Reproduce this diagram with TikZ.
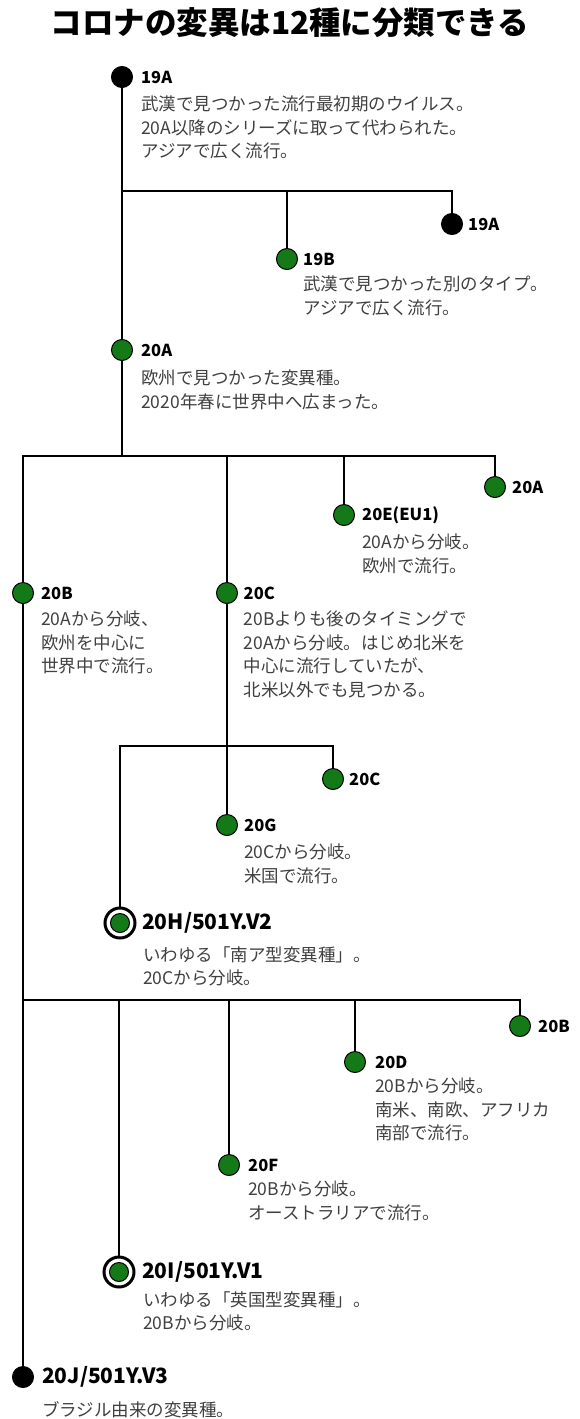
\documentclass[tikz,border=0pt]{standalone}
\usepackage{fontspec}
\setmainfont{Noto Sans CJK JP}
\definecolor{cgreen}{RGB}{20,122,24}
\definecolor{desccol}{RGB}{64,64,64}
\begin{document}
\begin{tikzpicture}[x=1pt,y=-1pt,
  conn/.style={line width=1.8pt, draw=black},
  gdot/.style={circle, fill=cgreen, draw=black, line width=1pt, minimum size=21pt, inner sep=0pt},
  bdot/.style={gdot, fill=black},
  ring/.style={circle, draw=black, fill=white, line width=3pt, minimum size=30pt, inner sep=0pt},
  gin/.style={gdot, minimum size=19pt},
  lab/.style={anchor=west, inner sep=0pt, font=\bfseries\fontsize{16.5}{16.5}\selectfont},
  biglab/.style={anchor=west, inner sep=0pt, font=\bfseries\fontsize{21}{21}\selectfont},
  txt/.style={anchor=north west, inner sep=0pt, align=left, text=desccol, font=\fontsize{17.5}{23.5}\selectfont},
]
\useasboundingbox (0,0) rectangle (580,1419);

\node[font=\bfseries\fontsize{31.5}{31.5}\selectfont, inner sep=0pt] (title) at (290,23) {コロナの変異は12種に分類できる};

% dots
\node[bdot] (d19A) at (122,77) {};
\node[gdot] (d19B) at (287,259) {};
\node[bdot] (d19Ar) at (452,224) {};
\node[gdot] (d20A) at (122,350) {};
\node[gdot] (d20Ar) at (495,487) {};
\node[gdot] (d20E) at (344,515) {};
\node[gdot] (d20B) at (23,593) {};
\node[gdot] (d20C) at (227,593) {};
\node[gdot] (d20Cr) at (333,779) {};
\node[gdot] (d20G) at (227,825) {};
\node[ring] (d20H) at (120,923) {};
\node[gin] (d20Hin) at (120,923) {};
\node[gdot] (d20Br) at (520,1026) {};
\node[gdot] (d20D) at (355,1062) {};
\node[gdot] (d20F) at (229,1165) {};
\node[ring] (d20I) at (119,1272) {};
\node[gin] (d20Iin) at (119,1272) {};
\node[bdot] (d20J) at (23,1377) {};

% junctions
\coordinate (h1) at (122,191);
\coordinate (h2) at (122,456);
\coordinate (h3) at (227,746);
\coordinate (h4) at (23,1000);

% connectors
\draw[conn] (d19A) -- (d20A);
\draw[conn] (h1) -| (d19B);
\draw[conn] (h1) -| (d19Ar);
\draw[conn] (d20A) -- (h2);
\draw[conn] (h2) -| (d20B);
\draw[conn] (h2) -| (d20C);
\draw[conn] (h2) -| (d20E);
\draw[conn] (h2) -| (d20Ar);
\draw[conn] (d20C) -- (d20G);
\draw[conn] (h3) -| (d20H);
\draw[conn] (h3) -| (d20Cr);
\draw[conn] (d20B) -- (d20J);
\draw[conn] (h4) -| (d20I);
\draw[conn] (h4) -| (d20F);
\draw[conn] (h4) -| (d20D);
\draw[conn] (h4) -| (d20Br);

% labels
\node[lab] (l19A) at (141,77) {19A};
\node[lab] (l19B) at (303,259) {19B};
\node[lab] (l19Ar) at (468,224) {19A};
\node[lab] (l20A) at (141,350) {20A};
\node[lab] (l20Ar) at (512,487) {20A};
\node[lab] (l20E) at (362,515) {20E(EU1)};
\node[lab] (l20B) at (41,593) {20B};
\node[lab] (l20C) at (243.5,593) {20C};
\node[lab] (l20Cr) at (349,779) {20C};
\node[lab] (l20G) at (244,825) {20G};
\node[biglab] (l20H) at (142,923) {20H/501Y.V2};
\node[lab] (l20Br) at (538,1026) {20B};
\node[lab] (l20D) at (375,1062) {20D};
\node[lab] (l20F) at (248,1165) {20F};
\node[biglab] (l20I) at (142,1272) {20I/501Y.V1};
\node[biglab] (l20J) at (42,1377) {20J/501Y.V3};

% descriptions
\node[txt] (t19A) at (141,96) {武漢で見つかった流行最初期のウイルス。\\20A以降のシリーズに取って代わられた。\\アジアで広く流行。};
\node[txt] (t19B) at (303,276) {武漢で見つかった別のタイプ。\\アジアで広く流行。};
\node[txt] (t20A) at (141,370) {欧州で見つかった変異種。\\2020年春に世界中へ広まった。};
\node[txt] (t20E) at (362,534) {20Aから分岐。\\欧州で流行。};
\node[txt] (t20B) at (41,611) {20Aから分岐、\\欧州を中心に\\世界中で流行。};
\node[txt] (t20C) at (243.5,611) {20Bよりも後のタイミングで\\20Aから分岐。はじめ北米を\\中心に流行していたが、\\北米以外でも見つかる。};
\node[txt] (t20G) at (244,844) {20Cから分岐。\\米国で流行。};
\node[txt] (t20H) at (143,946) {いわゆる「南ア型変異種」。\\20Cから分岐。};
\node[txt] (t20D) at (375,1078) {20Bから分岐。\\南米、南欧、アフリカ\\南部で流行。};
\node[txt] (t20F) at (248,1181) {20Bから分岐。\\オーストラリアで流行。};
\node[txt] (t20I) at (143,1291) {いわゆる「英国型変異種」。\\20Bから分岐。};
\node[txt] (t20J) at (42,1401) {ブラジル由来の変異種。};
\end{tikzpicture}
\end{document}
